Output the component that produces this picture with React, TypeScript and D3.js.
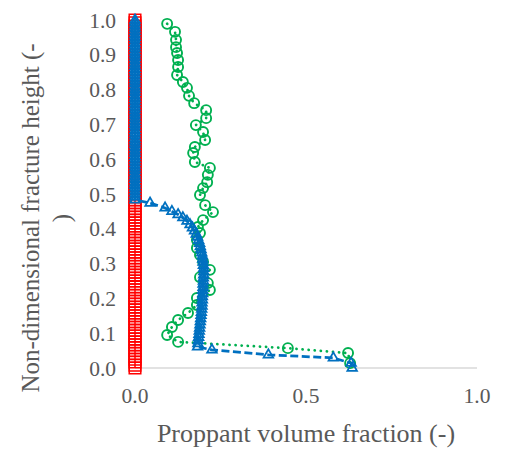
import React from 'react';
import * as d3 from 'd3';

// grid heights (non-dimensional)
const gridHeights = [
  0, 0.008, 0.017, 0.025, 0.033, 0.042, 0.050, 0.058, 0.067, 0.075,
  0.083, 0.092, 0.100, 0.108, 0.117, 0.125, 0.133, 0.142, 0.150, 0.158,
  0.167, 0.175, 0.183, 0.192, 0.200, 0.208, 0.217, 0.225, 0.233, 0.242,
  0.250, 0.258, 0.267, 0.275, 0.283, 0.292, 0.300, 0.308, 0.317, 0.325,
  0.333, 0.342, 0.350, 0.358, 0.367, 0.375, 0.383, 0.392, 0.400, 0.408,
  0.417, 0.425, 0.433, 0.442, 0.450, 0.458, 0.467, 0.475, 0.483, 0.492,
  0.500, 0.508, 0.517, 0.525, 0.533, 0.542, 0.550, 0.558, 0.567, 0.575,
  0.583, 0.592, 0.600, 0.608, 0.617, 0.625, 0.633, 0.642, 0.650, 0.658,
  0.667, 0.675, 0.683, 0.692, 0.700, 0.708, 0.717, 0.725, 0.733, 0.742,
  0.750, 0.758, 0.767, 0.775, 0.783, 0.792, 0.800, 0.808, 0.817, 0.825,
  0.833, 0.842, 0.850, 0.858, 0.867, 0.875, 0.883, 0.892, 0.900, 0.908,
  0.917, 0.925, 0.933, 0.942, 0.950, 0.958, 0.967, 0.975, 0.983, 0.992,
  1.000,
];

// blue series, lower part (x = fraction, y = height)
const blueLowX = [
  0.044, 0.088, 0.108, 0.126, 0.140, 0.152, 0.161, 0.168, 0.174, 0.179,
  0.183, 0.186, 0.189, 0.191, 0.193, 0.195, 0.197, 0.198, 0.199, 0.200,
  0.201, 0.201, 0.201, 0.200, 0.200, 0.199, 0.199, 0.198, 0.198, 0.197,
  0.197, 0.196, 0.196, 0.195, 0.194, 0.193, 0.192, 0.191, 0.190, 0.189,
  0.188, 0.187, 0.186, 0.185, 0.184, 0.183, 0.225, 0.390, 0.580, 0.632, 0.635,
];
const blueLowY = [
  0.474, 0.460, 0.450, 0.441, 0.432, 0.422, 0.412, 0.403, 0.394, 0.385,
  0.376, 0.367, 0.358, 0.349, 0.340, 0.331, 0.322, 0.313, 0.304, 0.295,
  0.286, 0.277, 0.268, 0.259, 0.250, 0.241, 0.232, 0.223, 0.214, 0.205,
  0.196, 0.187, 0.178, 0.169, 0.160, 0.151, 0.142, 0.133, 0.124, 0.115,
  0.106, 0.097, 0.088, 0.079, 0.070, 0.061, 0.052, 0.038, 0.029, 0.014, 0.000,
];

// green series
const greenX = [
  0.094, 0.117, 0.120, 0.120, 0.123, 0.126, 0.126, 0.123, 0.140, 0.152,
  0.158, 0.173, 0.208, 0.208, 0.178, 0.199, 0.205, 0.175, 0.170, 0.175,
  0.219, 0.213, 0.211, 0.199, 0.190, 0.205, 0.228, 0.199, 0.184, 0.190,
  0.181, 0.181, 0.190, 0.199, 0.219, 0.190, 0.213, 0.219, 0.181, 0.181,
  0.155, 0.126, 0.108, 0.094, 0.126, 0.447, 0.623, 0.629,
];
const greenY = [
  0.989, 0.966, 0.943, 0.922, 0.905, 0.885, 0.865, 0.842, 0.822, 0.805,
  0.782, 0.761, 0.741, 0.718, 0.698, 0.678, 0.655, 0.635, 0.618, 0.592,
  0.575, 0.555, 0.534, 0.517, 0.497, 0.468, 0.448, 0.425, 0.405, 0.388,
  0.368, 0.345, 0.325, 0.305, 0.282, 0.261, 0.244, 0.224, 0.201, 0.181,
  0.158, 0.138, 0.118, 0.095, 0.075, 0.057, 0.043, 0.014,
];

const xTicks = [0, 0.5, 1.0];
const yTicks = [0, 0.1, 0.2, 0.3, 0.4, 0.5, 0.6, 0.7, 0.8, 0.9, 1.0];

const W = 506;
const H = 449;
const FONT = '"Liberation Serif", "Times New Roman", serif';
const TEXT = '#595959';

type Pt = [number, number];

export default function App() {
  const x = d3.scaleLinear().domain([0, 1]).range([135, 477]);
  const y = d3.scaleLinear().domain([0, 1]).range([368, 20]);
  const fmt = d3.format('.1f');

  const redPts: Pt[] = gridHeights.map((h) => [0, h]);
  const blueTop: Pt[] = gridHeights.filter((h) => h >= 0.48).reverse().map((h) => [0, h]);
  const bluePts: Pt[] = blueTop.concat(blueLowX.map((v, i) => [v, blueLowY[i]] as Pt));
  const greenPts: Pt[] = greenX.map((v, i) => [v, greenY[i]]);

  const line = d3.line<Pt>().x((d) => x(d[0])).y((d) => y(d[1]));
  const square = d3.symbol(d3.symbolSquare, 134)();
  const triangle = d3.symbol(d3.symbolTriangle, 40)();

  return (
    <svg
      width={W}
      height={H}
      style={{ position: 'absolute', left: 0, top: 0, background: '#fff' }}
      fontFamily={FONT}
    >
      <line x1={x(0)} x2={x(1)} y1={y(0)} y2={y(0)} stroke="#d9d9d9" strokeWidth={1.3} />

      {yTicks.map((t) => (
        <text key={'y' + t} x={116} y={y(t)} dy="0.35em" textAnchor="end" fontSize={21.5} fill={TEXT}>
          {fmt(t)}
        </text>
      ))}
      {xTicks.map((t) => (
        <text key={'x' + t} x={x(t)} y={403} textAnchor="middle" fontSize={21.5} fill={TEXT}>
          {fmt(t)}
        </text>
      ))}

      <text x={306} y={442} textAnchor="middle" fontSize={26} fill={TEXT}>
        Proppant volume fraction (-)
      </text>
      <g transform="translate(39,218) rotate(-90)">
        <text textAnchor="middle" fontSize={25} fill={TEXT}>
          Non-dimensional fracture height (-
        </text>
      </g>
      <g transform="translate(70,218) rotate(-90)">
        <text textAnchor="middle" fontSize={25} fill={TEXT}>
          )
        </text>
      </g>

      {/* green: dotted line, hollow circles */}
      <path
        d={line(greenPts) || ''}
        fill="none"
        stroke="#00B050"
        strokeWidth={2.75}
        strokeDasharray="0.1 6"
        strokeLinecap="round"
      />
      {greenPts.map((d, i) => (
        <circle key={'g' + i} cx={x(d[0])} cy={y(d[1])} r={5} fill="none" stroke="#00B050" strokeWidth={1.9} />
      ))}

      {/* red: solid line, hollow squares */}
      <path d={line(redPts) || ''} fill="none" stroke="#FF0000" strokeWidth={1.5} />
      {redPts.map((d, i) => (
        <path
          key={'r' + i}
          d={square || ''}
          transform={`translate(${x(d[0])},${y(d[1])})`}
          fill="none"
          stroke="#FF0000"
          strokeWidth={1.5}
        />
      ))}

      {/* blue: dashed line, hollow triangles */}
      <path
        d={line(bluePts) || ''}
        fill="none"
        stroke="#0070C0"
        strokeWidth={2.75}
        strokeDasharray="8 3.5"
      />
      {bluePts.map((d, i) => (
        <path
          key={'b' + i}
          d={triangle || ''}
          transform={`translate(${x(d[0])},${y(d[1])})`}
          fill="none"
          stroke="#0070C0"
          strokeWidth={1.75}
        />
      ))}
    </svg>
  );
}
